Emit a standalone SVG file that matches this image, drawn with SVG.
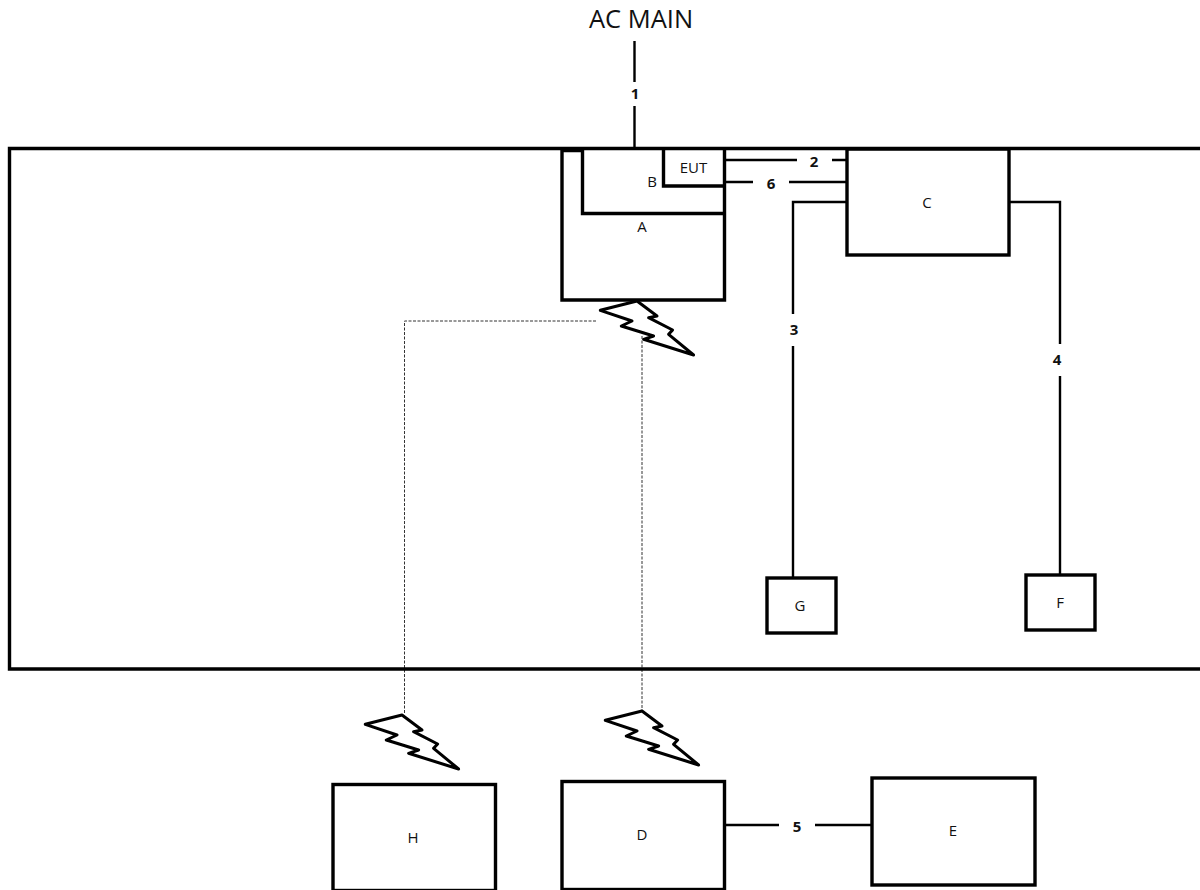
<svg xmlns="http://www.w3.org/2000/svg" width="1200" height="890" viewBox="0 0 1200 890">
<style>
text{font-family:"Open Sans","Noto Sans","Liberation Sans",sans-serif;fill:#111;text-anchor:middle}
.l{font-size:15px}
.n{font-size:15px;font-weight:700}
.t{font-size:25.500px}
.box{fill:none;stroke:#000;stroke-width:3.400;stroke-linejoin:miter}
.w{fill:none;stroke:#000;stroke-width:2.400}
.d{fill:none;stroke:#333;stroke-width:1;stroke-dasharray:3 1.500}
.b{fill:#fff;stroke:#000;stroke-width:3;stroke-linejoin:round}
</style>
<defs>
<polygon id="bolt" class="b" points="0,0 -36.700,9.300 -5,20 -15.700,25 16.600,35 6.600,38.300 56.600,54 31.600,33.300 35.600,29 11.600,16.700 20,15"/>
</defs>
<rect width="1200" height="890" fill="#fff"/>
<g id="connectors">
<path class="w" d="M634.500 41V82M634.500 106V148"/>
<path class="w" d="M725 160H797M832 160H847"/>
<path class="w" d="M725 182H753M789 182H847"/>
<path class="w" d="M847 202H793V314M793 346V578"/>
<path class="w" d="M1009 202H1060V344M1060 376V575"/>
<path class="w" d="M725 825H779M815 825H872"/>
<path class="d" d="M596 321H404.500V714"/>
<path class="d" d="M642 336V710"/>
</g>
<g id="room"><path class="box" d="M1200 148.500H9.500V669H1200"/></g>
<g id="node-a"><path class="box" d="M581 150.500H562V300H724.500V150"/><text class="l" x="642" y="232">A</text></g>
<g id="node-b"><path class="box" d="M582.500 150V213.500H724"/><text class="l" x="652" y="187">B</text></g>
<g id="node-eut"><path class="box" d="M663.500 150V186H724"/><text class="l" x="693.500" y="173">EUT</text></g>
<g id="node-c"><rect class="box" x="847" y="149" width="162" height="106"/><text class="l" x="927" y="208">C</text></g>
<g id="node-g"><rect class="box" x="767" y="578" width="69" height="55"/><text class="l" x="800" y="611">G</text></g>
<g id="node-f"><rect class="box" x="1026" y="575" width="69" height="55"/><text class="l" x="1060" y="608">F</text></g>
<g id="node-h"><rect class="box" x="333" y="784.500" width="162.500" height="106"/><text class="l" x="413" y="843">H</text></g>
<g id="node-d"><rect class="box" x="562" y="781.500" width="162.500" height="108"/><text class="l" x="642" y="840">D</text></g>
<g id="node-e"><rect class="box" x="872" y="778" width="163" height="107"/><text class="l" x="953" y="836">E</text></g>
<g id="bolt-top"><use href="#bolt" x="637" y="301"/></g>
<g id="bolt-h"><use href="#bolt" x="402" y="715"/></g>
<g id="bolt-d"><use href="#bolt" x="642" y="711"/></g>
<g id="labels">
<text class="t" x="641" y="28">AC MAIN</text>
<text class="n" x="635" y="99">1</text>
<text class="n" x="814" y="167">2</text>
<text class="n" x="771" y="189">6</text>
<text class="n" x="794" y="335">3</text>
<text class="n" x="1057" y="365">4</text>
<text class="n" x="797" y="832">5</text>
</g>
</svg>
